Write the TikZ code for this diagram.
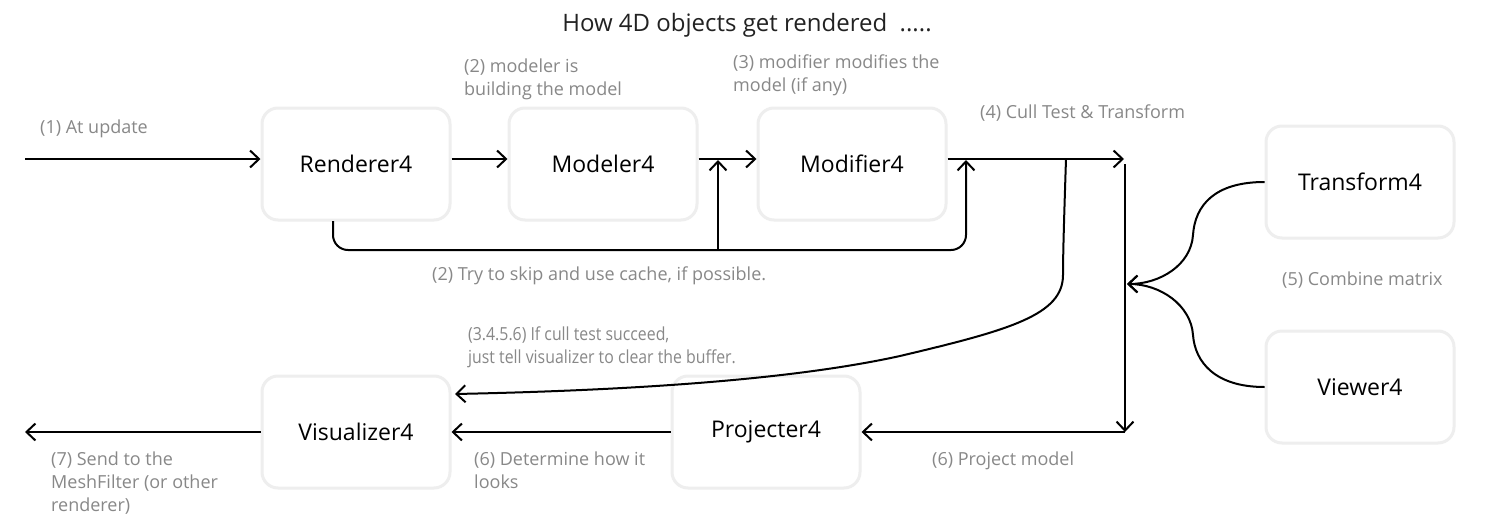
\documentclass[tikz,border=0pt]{standalone}
\usepackage{fontspec}
\setmainfont{Open Sans}
\newfontfamily\condfont[FakeStretch=0.88]{Open Sans}
\usetikzlibrary{arrows.meta}
\definecolor{boxline}{HTML}{EEEEEE}
\definecolor{lblgray}{HTML}{888888}
\definecolor{titlec}{HTML}{222222}
\begin{document}
\begin{tikzpicture}[x=1pt,y=-1pt,
  box/.style={draw=boxline, line width=3pt, rounded corners=16pt, minimum width=188pt, minimum height=112pt, inner sep=0pt, font=\fontsize{23}{27}\selectfont},
  lbl/.style={text=lblgray, font=\fontsize{18}{23}\selectfont, anchor=north west, align=left, inner sep=0pt},
  clbl/.style={lbl, font=\condfont\fontsize{18}{22.5}\selectfont},
  wire/.style={line width=2pt},
  conn/.style={wire, -{Straight Barb[length=9pt,width=17pt,line width=2pt]}},
]
\useasboundingbox (0,0) rectangle (1492,525);
\fill[white] (0,0) rectangle (1492,525);

% title
\node[font=\fontsize{24}{28}\selectfont, text=titlec] (title) at (747,25) {How 4D objects get rendered\ \ .....};

% boxes
\node[box] (ren)  at (356,164) {Renderer4};
\node[box] (mod)  at (603,164) {Modeler4};
\node[box] (modf) at (852,164) {Modifier4};
\node[box] (trf)  at (1360,182) {Transform4};
\node[box] (view) at (1360,387) {Viewer4};
\node[box] (vis)  at (356,432) {Visualizer4};
\node[box] (proj) at (766,432) {Projecter4};

% coordinates
\coordinate (in)   at (25,159);
\coordinate (ct)   at (1124,159);
\coordinate (mid1) at (718,160);
\coordinate (mid2) at (966,160);
\coordinate (rb)   at (333,221);
\coordinate (lp1)  at (718,250);
\coordinate (cb)   at (1066,159);
\coordinate (vt)   at (1125,164);
\coordinate (vb)   at (1125,432);
\coordinate (out)  at (25,432);
\coordinate (mg)   at (1127,284);
\coordinate (vishit) at (455,394);

% top row
\draw[conn] (in) -- (in -| ren.west);
\draw[conn] (in -| ren.east) -- (in -| mod.west);
\draw[conn] (in -| mod.east) -- (in -| modf.west);
\draw[conn] (in -| modf.east) -- (ct);

% skip loop
\draw[conn, rounded corners=15pt] (rb) |- (966,250) -- (mid2);
\draw[conn] (lp1) -- (mid1);

% cull branch
\draw[conn] (cb) .. controls (1064,220) and (1063,255) .. (1063,275)
  .. controls (1063,315) and (1010,330) .. (900,356)
  .. controls (800,378) and (650,390) .. (vishit);

% vertical and bottom row
\draw[conn] (vt) -- (vb);
\draw[conn] (vb) -- (vb -| proj.east);
\draw[conn] (proj.west) -- (vis.east);
\draw[conn] (vis.west) -- (out);

% combine
\draw[conn] (trf.west) .. controls (1215,182) and (1195,205) .. (1193,235)
  .. controls (1191,265) and (1160,284) .. (mg);
\draw[conn] (view.west) .. controls (1215,387) and (1195,362) .. (1193,335)
  .. controls (1191,305) and (1160,284) .. (mg);

% labels
\node[lbl] (l1) at (40,120) {(1) At update};
\node[lbl] (l2) at (464,59) {(2) modeler is\\building the model};
\node[lbl] (l3) at (733,55) {(3) modifier modifies the\\model (if any)};
\node[lbl] (l4) at (980,105) {(4) Cull Test \& Transform};
\node[lbl] (l2b) at (432,267) {(2) Try to skip and use cache, if possible.};
\node[lbl] (l5) at (1282,272) {(5) Combine matrix};
\node[clbl] (l3456) at (468,327) {(3.4.5.6) If cull test succeed,\\just tell visualizer to clear the buffer.};
\node[lbl] (l6p) at (932,452) {(6) Project model};
\node[lbl] (l6d) at (474,452) {(6) Determine how it\\looks};
\node[lbl] (l7) at (51,452) {(7) Send to the\\MeshFilter (or other\\renderer)};
\end{tikzpicture}
\end{document}
